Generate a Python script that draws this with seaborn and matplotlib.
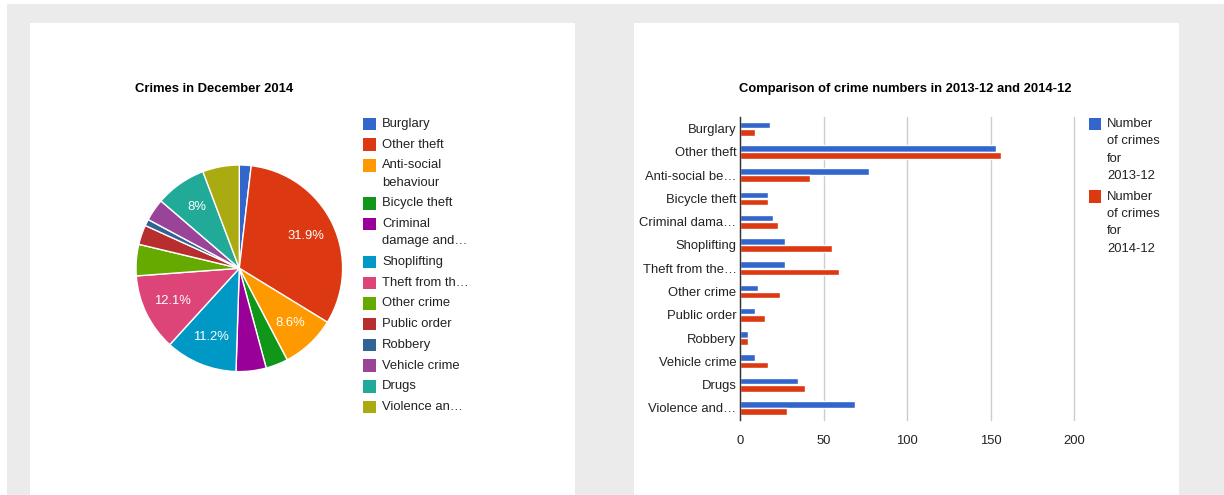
import matplotlib
matplotlib.use("Agg")
import matplotlib.pyplot as plt
from matplotlib.patches import Rectangle
import seaborn as sns
import pandas as pd

# ---------------- data ----------------
categories = ["Burglary", "Other theft", "Anti-social behaviour", "Bicycle theft",
              "Criminal damage and arson", "Shoplifting", "Theft from the person",
              "Other crime", "Public order", "Robbery", "Vehicle crime", "Drugs",
              "Violence and sexual offences"]
bar_tick_labels = ["Burglary", "Other theft", "Anti-social be\u2026", "Bicycle theft",
                   "Criminal dama\u2026", "Shoplifting", "Theft from the\u2026",
                   "Other crime", "Public order", "Robbery", "Vehicle crime", "Drugs",
                   "Violence and\u2026"]
pie_legend_labels = ["Burglary", "Other theft", "Anti-social\nbehaviour", "Bicycle theft",
                     "Criminal\ndamage and\u2026", "Shoplifting", "Theft from th\u2026",
                     "Other crime", "Public order", "Robbery", "Vehicle crime", "Drugs",
                     "Violence an\u2026"]
crimes_2013_12 = [18, 153, 77, 17, 20, 27, 27, 11, 9, 5, 9, 35, 69]
crimes_2014_12 = [9, 156, 42, 17, 23, 55, 59, 24, 15, 5, 17, 39, 28]
series_labels = ["Number\nof crimes\nfor\n2013-12", "Number\nof crimes\nfor\n2014-12"]
x_ticks = [0, 50, 100, 150, 200]

slice_colors = ["#3366cc", "#dc3912", "#ff9900", "#109618", "#990099", "#0099c6",
                "#dd4477", "#66aa00", "#b82e2e", "#316395", "#994499", "#22aa99",
                "#aaaa11"]
series_colors = ["#3366cc", "#dc3912"]

# ---------------- style ----------------
sns.set_style("white")
plt.rcParams["font.family"] = ["Liberation Sans", "DejaVu Sans"]
FS = 9.4
TXT = "#222222"

W, H = 1224, 495
fig = plt.figure(figsize=(W / 100, H / 100), dpi=100)
fig.patch.set_facecolor("#ebebeb")


def fx(x):
    return x / W


def fy(y):
    return 1 - y / H


def px_rect(x0, y0, x1, y1, color, z=-10):
    fig.patches.append(Rectangle((fx(x0), fy(y1)), (x1 - x0) / W, (y1 - y0) / H,
                                 transform=fig.transFigure, facecolor=color,
                                 edgecolor="none", zorder=z))


# page frame
px_rect(0, 0, W, 4, "white")
px_rect(0, 0, 7, H, "white")
px_rect(30, 23, 575, H, "white")
px_rect(634, 23, 1179, H, "white")


def legend(labels, colors, x_sq, x_txt, y0, step=20.7, line=17.3, sq=12.5):
    y = y0
    for lab, col in zip(labels, colors):
        px_rect(x_sq, y - sq / 2, x_sq + sq, y + sq / 2, col, z=3)
        for i, ln in enumerate(lab.split("\n")):
            fig.text(fx(x_txt), fy(y + i * line), ln, fontsize=FS, color=TXT,
                     ha="left", va="center")
        y += step + (len(lab.split("\n")) - 1) * line


# ---------------- pie ----------------
cx, cy, r = 239.3, 268.3, 103.3
ax1 = fig.add_axes([fx(cx - r), fy(cy + r), 2 * r / W, 2 * r / H])


def pct_fmt(p):
    if p < 7:
        return ""
    s = f"{p:.1f}"
    if s.endswith(".0"):
        s = s[:-2]
    return s + "%"


ax1.pie(crimes_2014_12, colors=slice_colors, startangle=90, counterclock=False,
        autopct=pct_fmt, pctdistance=0.72,
        wedgeprops=dict(edgecolor="white", linewidth=1),
        textprops=dict(color="white", fontsize=FS))
ax1.set_xlim(-1, 1)
ax1.set_ylim(-1, 1)
ax1.set_aspect("equal")
ax1.axis("off")

fig.text(fx(135), fy(89), "Crimes in December 2014", fontsize=FS, fontweight="bold",
         color="#000000", ha="left", va="center")
legend(pie_legend_labels, slice_colors, 363, 382, 124)

# ---------------- bars ----------------
x0, x1 = 740, 1074
y_top, y_bot = 117, 419.5
ax2 = fig.add_axes([fx(x0), fy(y_bot), (x1 - x0) / W, (y_bot - y_top) / H])
ax2.set_facecolor("none")

df = pd.DataFrame({
    "category": bar_tick_labels * 2,
    "value": crimes_2013_12 + crimes_2014_12,
    "series": [series_labels[0]] * len(categories) + [series_labels[1]] * len(categories),
})
sns.barplot(data=df, y="category", x="value", hue="series", palette=series_colors,
            orient="h", width=0.62, gap=0.08, saturation=1, legend=False, ax=ax2)

ax2.set_xlim(0, 200)
ax2.set_ylim(len(categories) - 0.5, -0.5)
ax2.set_xticks(x_ticks)
ax2.set_xticklabels([str(t) for t in x_ticks])
ax2.set_xlabel("")
ax2.set_ylabel("")
ax2.grid(axis="x", color="#cccccc", linewidth=1)
ax2.grid(axis="y", visible=False)
for gl in ax2.get_xgridlines():
    gl.set_clip_on(False)
ax2.set_axisbelow(True)
for s in ["top", "right", "bottom"]:
    ax2.spines[s].set_visible(False)
ax2.spines["left"].set_color("#333333")
ax2.spines["left"].set_linewidth(1)
ax2.spines["left"].set_zorder(5)
ax2.tick_params(axis="both", length=0, labelsize=FS, labelcolor=TXT)
ax2.tick_params(axis="x", pad=11)
ax2.tick_params(axis="y", pad=2.5)

fig.text(fx(739), fy(89), "Comparison of crime numbers in 2013-12 and 2014-12",
         fontsize=FS, fontweight="bold", color="#000000", ha="left", va="center")
legend(series_labels, series_colors, 1088.5, 1107, 124)

fig.savefig("out.png", dpi=100, facecolor=fig.get_facecolor())
